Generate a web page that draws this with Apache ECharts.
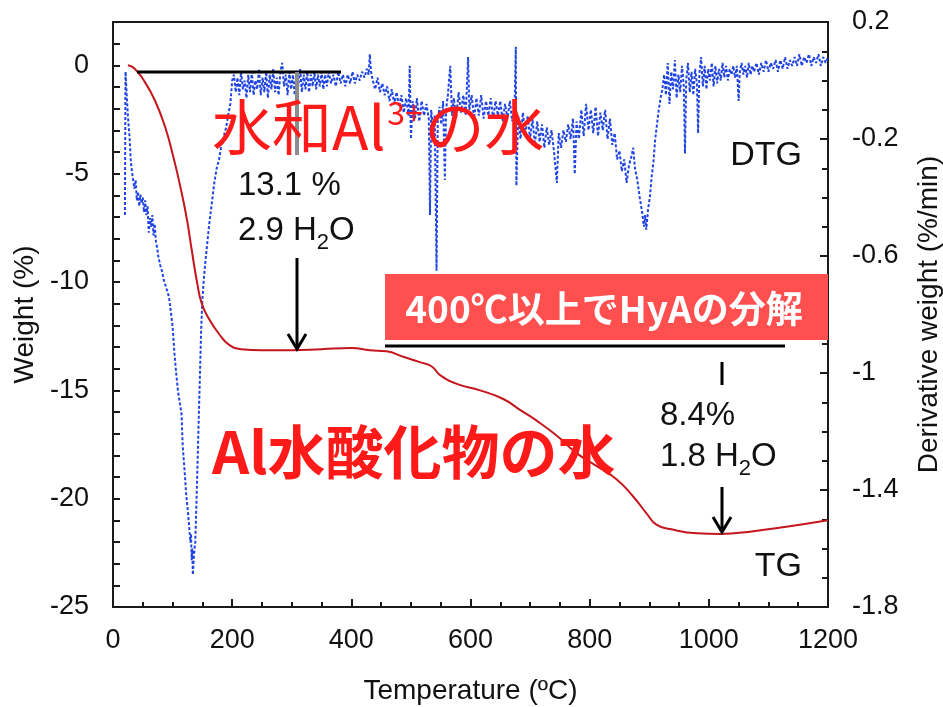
<!DOCTYPE html>
<html><head><meta charset="utf-8">
<script src="https://cdn.jsdelivr.net/npm/echarts@6/dist/echarts.min.js"></script>
<style>html,body{margin:0;padding:0;background:#fff}#c{width:943px;height:707px}</style>
</head><body><div id="c"></div>
<script>
// ---- Data ----
const xTicks = [0, 200, 400, 600, 800, 1000, 1200];
const weightTicks = [-25, -20, -15, -10, -5, 0];
const rateTicks = [-1.8, -1.4, -1, -0.6, -0.2, 0.2];

// TG: [temperature °C, weight %]
const tgPoints = [
  [25,0],[36,-0.15],[53,-0.75],[70,-1.6],[87,-2.8],[101,-4.2],[113,-5.6],[124,-7.1],[132,-8.5],
  [141,-10.0],[149,-11.0],[161,-11.7],[178,-12.4],[195,-12.9],[215,-13.1],[250,-13.15],[300,-13.15],
  [350,-13.1],[400,-13.05],[431,-13.15],[459,-13.2],[487,-13.45],[515,-13.7],[535,-13.9],[549,-14.3],
  [577,-14.7],[616,-15.0],[655,-15.4],[683,-15.9],[711,-16.4],[745,-17.1],[778,-17.9],[812,-18.5],
  [845,-19.1],[873,-19.9],[896,-20.7],[912,-21.2],[935,-21.4],[980,-21.6],[1019,-21.63],[1075,-21.5],
  [1130,-21.3],[1200,-21.0]
];

// DTG: [temperature °C, derivative weight %/min]
const dtgPoints = [
  [20,-0.46],[21,0.03],[23,-0.05],[25,-0.12],[28,-0.20],[30,-0.28],[33,-0.33],[36,-0.37],[38,-0.34],
  [40,-0.41],[42,-0.38],[44,-0.43],[46,-0.39],[48,-0.42],[50,-0.40],[52,-0.45],[54,-0.41],[56,-0.46],
  [58,-0.43],[60,-0.52],[62,-0.47],[64,-0.50],[66,-0.46],[68,-0.53],[70,-0.49],[72,-0.55],[74,-0.57],
  [76,-0.60],[79,-0.63],[82,-0.65],[85,-0.68],[88,-0.70],[91,-0.72],[94,-0.74],[97,-0.79],[100,-0.84],
  [103,-0.93],[106,-1.00],[109,-1.06],[112,-1.10],[115,-1.14],[117,-1.25],[120,-1.33],[123,-1.42],
  [126,-1.48],[128,-1.53],[130,-1.58],[131,-1.55],[132,-1.64],[133,-1.60],[134,-1.69],[136,-1.62],
  [138,-1.58],[140,-1.45],[142,-1.30],[144,-1.15],[146,-1.00],[148,-0.85],[150,-0.75],[152,-0.69],
  [155,-0.62],[158,-0.56],[161,-0.50],[164,-0.45],[167,-0.40],[170,-0.35],[174,-0.30],[178,-0.27],
  [182,-0.22],[186,-0.19],[190,-0.16],[194,-0.11],[197,-0.08],[200,0.00],
  [203,0.02],[206,-0.04],[209,0.01],[212,-0.05],[215,0.03],[218,-0.03],[221,0.00],[224,-0.06],
  [227,0.02],[230,-0.04],[233,0.03],[236,-0.05],[239,0.00],[242,-0.03],[245,0.04],[248,-0.05],
  [251,0.01],[254,-0.04],[257,0.03],[260,-0.06],[263,0.02],[266,-0.03],[269,0.04],[272,-0.04],
  [275,0.01],[278,-0.05],[281,0.03],[284,0.06],[287,-0.02],[290,0.02],[293,-0.05],[296,0.03],
  [299,-0.03],[302,0.02],[305,-0.05],[308,0.03],[311,-0.02],[314,0.04],[317,-0.04],[320,0.02],
  [323,-0.03],[326,0.03],[329,-0.04],[332,0.02],[335,-0.02],[338,0.03],[341,-0.03],[344,0.02],
  [347,-0.02],[350,0.03],[353,-0.03],[356,0.02],[359,-0.02],[362,0.03],
  [366,-0.01],[370,0.02],[374,-0.02],[378,0.03],[382,-0.01],[386,0.02],[390,-0.02],[394,0.02],
  [398,-0.01],[402,0.03],[406,-0.01],[410,0.02],[414,0.00],[418,0.03],[422,0.01],[426,0.04],
  [429,0.02],[431,0.09],[433,0.03],[436,0.00],[440,-0.03],[444,0.01],[448,-0.04],[452,-0.01],
  [456,-0.05],[460,-0.02],[464,-0.07],[468,-0.03],[472,-0.08],[476,-0.04],[480,-0.09],[484,-0.05],
  [488,-0.11],[492,-0.06],[496,-0.12],[498,0.05],[500,-0.20],[503,-0.07],[507,-0.13],[510,-0.06],
  [514,-0.14],[518,-0.07],[522,-0.12],[526,-0.08],[530,-0.13],[532,-0.46],[534,-0.10],[537,-0.16],
  [540,-0.12],[543,-0.65],[545,-0.14],[548,-0.09],[551,-0.15],[554,-0.07],[557,-0.34],[559,-0.10],
  [562,-0.05],[566,0.05],[569,-0.12],[572,-0.06],[576,-0.13],[580,-0.04],[584,-0.11],[588,-0.05],
  [592,-0.12],[596,0.08],[598,-0.10],[602,-0.05],[606,-0.13],[610,-0.06],[614,-0.12],[618,-0.05],
  [622,-0.13],[626,-0.07],[630,-0.12],[634,-0.06],[638,-0.13],[642,-0.07],[646,-0.12],[650,-0.07],
  [654,-0.14],[658,-0.08],[662,-0.13],[666,-0.07],[670,-0.14],[674,-0.09],[676,0.115],[677,-0.36],
  [680,-0.12],[684,-0.20],[688,-0.11],[692,-0.19],[696,-0.12],[700,-0.20],[704,-0.13],[708,-0.22],
  [712,-0.14],[716,-0.21],[720,-0.15],[724,-0.23],[728,-0.16],[732,-0.22],[736,-0.17],[740,-0.24],
  [745,-0.35],[748,-0.18],[752,-0.23],[756,-0.17],[760,-0.21],[764,-0.15],[768,-0.20],[772,-0.13],
  [775,-0.32],[778,-0.14],[782,-0.20],[786,-0.10],[790,-0.19],[794,-0.08],[798,-0.17],[802,-0.10],
  [806,-0.18],[810,-0.09],[814,-0.19],[818,-0.11],[822,-0.17],[826,-0.10],[830,-0.20],[834,-0.13],
  [838,-0.22],[842,-0.18],
  [846,-0.27],[850,-0.24],[854,-0.31],[858,-0.27],[862,-0.35],[866,-0.29],[870,-0.26],[873,-0.23],
  [876,-0.30],[880,-0.34],[884,-0.40],[888,-0.45],[891,-0.50],[893,-0.46],[895,-0.51],[898,-0.44],
  [901,-0.40],[904,-0.33],[907,-0.28],[910,-0.20],[913,-0.15],[916,-0.10],[919,-0.06],[922,-0.03],
  [925,0.02],[928,-0.05],[931,0.06],[934,-0.08],[937,0.03],[940,-0.03],[943,0.07],[946,-0.06],
  [949,0.02],[952,-0.04],[955,0.05],[958,-0.02],[960,-0.25],[962,0.00],[965,0.06],[968,-0.04],
  [971,0.03],[974,-0.05],[977,0.04],[980,-0.01],[982,-0.18],[984,0.02],[987,0.08],[990,-0.02],
  [993,0.05],[996,-0.03],[999,0.04],[1002,0.00],[1005,0.06],[1008,-0.02],[1011,0.05],[1014,-0.01],
  [1017,0.04],[1020,0.00],[1023,0.06],[1026,0.01],[1029,0.05],[1032,0.00],[1035,0.04],[1038,0.02],
  [1041,0.05],[1044,0.01],[1047,0.05],[1050,-0.07],[1052,0.03],[1055,0.06],[1058,0.02],[1061,0.05],
  [1064,0.01],[1067,0.06],[1070,0.02],[1073,0.05],[1076,0.03],[1080,0.06],[1084,0.02],[1088,0.06],
  [1092,0.03],[1096,0.07],[1100,0.03],[1104,0.06],[1108,0.04],[1112,0.07],[1116,0.03],[1120,0.07],
  [1124,0.04],[1128,0.08],[1132,0.04],[1136,0.07],[1140,0.05],[1144,0.08],[1148,0.05],[1152,0.09],
  [1156,0.05],[1160,0.08],[1164,0.06],[1168,0.09],[1172,0.05],[1176,0.08],[1180,0.06],[1184,0.09],
  [1188,0.05],[1192,0.08],[1196,0.06],[1200,0.08]
];

// ---- Chart ----
const chart = echarts.init(document.getElementById('c'), null, {renderer: 'canvas'});
const LAT = '"Liberation Sans", Arial, sans-serif';
const CJK = '"Noto Sans CJK JP", sans-serif';
const axisCol = '#1a1a1a';

function fmtRate(v) {
  const r = Math.round(v * 10);
  const hit = rateTicks.some(t => Math.round(t * 10) === r);
  return hit ? String(Number((r / 10).toFixed(1))) : '';
}

const option = {
  backgroundColor: '#fff',
  animation: false,
  grid: {left: 113, right: 115, top: 22, bottom: 100, outerBoundsMode: 'none', containLabel: false,
         show: true, borderColor: axisCol, borderWidth: 2, backgroundColor: 'transparent'},
  xAxis: {
    type: 'value', min: 0, max: 1200, interval: 200,
    name: 'Temperature (ºC)', nameLocation: 'middle', nameGap: 70,
    nameTextStyle: {fontFamily: LAT, fontSize: 28, color: '#111'},
    axisLine: {show: true, onZero: false, lineStyle: {color: axisCol, width: 2}},
    axisTick: {show: true, inside: true, length: 8, lineStyle: {color: axisCol, width: 2}},
    minorTick: {show: true, splitNumber: 4, length: 5, lineStyle: {color: axisCol, width: 2}},
    axisLabel: {fontFamily: LAT, fontSize: 27, color: '#111', margin: 20,
      formatter: v => xTicks.includes(v) ? String(v) : ''},
    splitLine: {show: false}
  },
  yAxis: [{
    type: 'value', min: -25, max: 2, interval: 1, position: 'left',
    name: 'Weight (%)', nameLocation: 'middle', nameGap: 72, nameRotate: 90,
    nameTextStyle: {fontFamily: LAT, fontSize: 28, color: '#111'},
    axisLine: {show: true, onZero: false, lineStyle: {color: axisCol, width: 2}},
    axisTick: {show: true, inside: true, length: 7, lineStyle: {color: axisCol, width: 2}},
    axisLabel: {fontFamily: LAT, fontSize: 27, color: '#111', margin: 24,
      showMaxLabel: false,
      formatter: v => weightTicks.includes(v) ? String(v) : ''},
    splitLine: {show: false}
  }, {
    type: 'value', min: -1.8, max: 0.2, interval: 0.4, position: 'right',
    name: 'Derivative weight (%/min)', nameLocation: 'middle', nameGap: 87, nameRotate: 90,
    nameTextStyle: {fontFamily: LAT, fontSize: 28, color: '#111'},
    axisLine: {show: true, onZero: false, lineStyle: {color: axisCol, width: 2}},
    axisTick: {show: true, inside: true, length: 8, lineStyle: {color: axisCol, width: 2}},
    minorTick: {show: true, splitNumber: 4, length: 6, lineStyle: {color: axisCol, width: 2}},
    axisLabel: {fontFamily: LAT, fontSize: 27, color: '#111', margin: 24, formatter: fmtRate},
    splitLine: {show: false}
  }],
  visualMap: {
    type: 'piecewise', show: false, seriesIndex: 0, dimension: 0,
    pieces: [
      {lt: 136, color: '#1d3fd6'},
      {gte: 136, lt: 200, color: '#4a6ce6'},
      {gte: 200, lt: 450, color: '#8aa3f0'},
      {gte: 450, lt: 705, color: '#7890ee'},
      {gte: 705, color: '#1f44e2'}
    ]
  },
  series: [{
    name: 'DTG', type: 'line', yAxisIndex: 1, data: dtgPoints,
    showSymbol: false, smooth: false, z: 2,
    lineStyle: {width: 2, type: [3, 2], color: '#1f44e2'}
  }, {
    name: 'TG', type: 'line', yAxisIndex: 0, data: tgPoints,
    showSymbol: false, smooth: true, z: 3,
    lineStyle: {width: 2, color: '#c4161c'}
  }],
  graphic: [
    {type: 'line', z: 10, shape: {x1: 137, y1: 72, x2: 341, y2: 72}, style: {stroke: '#000', lineWidth: 3}},
    {type: 'line', z: 10, shape: {x1: 297, y1: 72, x2: 297, y2: 155}, style: {stroke: '#8c8c8c', lineWidth: 4}},
    {type: 'text', z: 11, style: {
      x: 212, y: 126, text: '{a|水和Al}{g| }{s|3+}{g| }{a|の水}', textVerticalAlign: 'middle',
      rich: {a: {fontFamily: CJK, fontSize: 60, lineHeight: 62, fill: '#ff1a1a', verticalAlign: 'bottom'},
             g: {fontFamily: CJK, fontSize: 8, lineHeight: 8, fill: '#ff1a1a', verticalAlign: 'top'},
             s: {fontFamily: CJK, fontSize: 32, lineHeight: 36, fill: '#ff1a1a', verticalAlign: 'top', padding: [2, 0, 0, 0]}}}},
    {type: 'text', z: 11, style: {x: 238, y: 186, text: '13.1 %', fontFamily: LAT, fontSize: 33, fill: '#111', textVerticalAlign: 'middle'}},
    {type: 'text', z: 11, style: {
      x: 238, y: 234, text: '{n|2.9 H}{b|2}{n|O}', textVerticalAlign: 'middle',
      rich: {n: {fontFamily: LAT, fontSize: 33, lineHeight: 40, fill: '#111', verticalAlign: 'top'},
             b: {fontFamily: LAT, fontSize: 22, lineHeight: 22, fill: '#111', verticalAlign: 'bottom'}}}},
    {type: 'line', z: 10, shape: {x1: 297, y1: 258, x2: 297, y2: 348}, style: {stroke: '#000', lineWidth: 3}},
    {type: 'polyline', z: 10, shape: {points: [[288, 334], [297, 349], [306, 334]]}, style: {stroke: '#000', lineWidth: 3, fill: null}},
    {type: 'rect', z: 12, shape: {x: 385, y: 274, width: 443, height: 66}, style: {fill: '#ff4f4f'}},
    {type: 'text', z: 13, style: {x: 604, y: 309, text: '400℃以上でHyAの分解', fontFamily: CJK, fontWeight: 'bold', fontSize: 37, fill: '#fff', textAlign: 'center', textVerticalAlign: 'middle'}},
    {type: 'line', z: 10, shape: {x1: 385, y1: 346, x2: 785, y2: 346}, style: {stroke: '#000', lineWidth: 3}},
    {type: 'line', z: 10, shape: {x1: 722, y1: 362, x2: 722, y2: 385}, style: {stroke: '#000', lineWidth: 3}},
    {type: 'text', z: 11, style: {x: 660, y: 416, text: '8.4%', fontFamily: LAT, fontSize: 33, fill: '#111', textVerticalAlign: 'middle'}},
    {type: 'text', z: 11, style: {
      x: 660, y: 460, text: '{n|1.8 H}{b|2}{n|O}', textVerticalAlign: 'middle',
      rich: {n: {fontFamily: LAT, fontSize: 33, lineHeight: 40, fill: '#111', verticalAlign: 'top'},
             b: {fontFamily: LAT, fontSize: 22, lineHeight: 22, fill: '#111', verticalAlign: 'bottom'}}}},
    {type: 'line', z: 10, shape: {x1: 722, y1: 487, x2: 722, y2: 531}, style: {stroke: '#000', lineWidth: 3}},
    {type: 'polyline', z: 10, shape: {points: [[713, 517], [722, 532], [731, 517]]}, style: {stroke: '#000', lineWidth: 3, fill: null}},
    {type: 'text', z: 11, style: {x: 212, y: 452, text: 'Al水酸化物の水', fontFamily: CJK, fontWeight: 'bold', fontSize: 58, fill: '#ff1a1a', textVerticalAlign: 'middle'}},
    {type: 'text', z: 11, style: {x: 802, y: 156, text: 'DTG', fontFamily: LAT, fontSize: 34, fill: '#111', textAlign: 'right', textVerticalAlign: 'middle'}},
    {type: 'text', z: 11, style: {x: 802, y: 567, text: 'TG', fontFamily: LAT, fontSize: 34, fill: '#111', textAlign: 'right', textVerticalAlign: 'middle'}}
  ]
};
chart.setOption(option);
</script>
</body></html>
